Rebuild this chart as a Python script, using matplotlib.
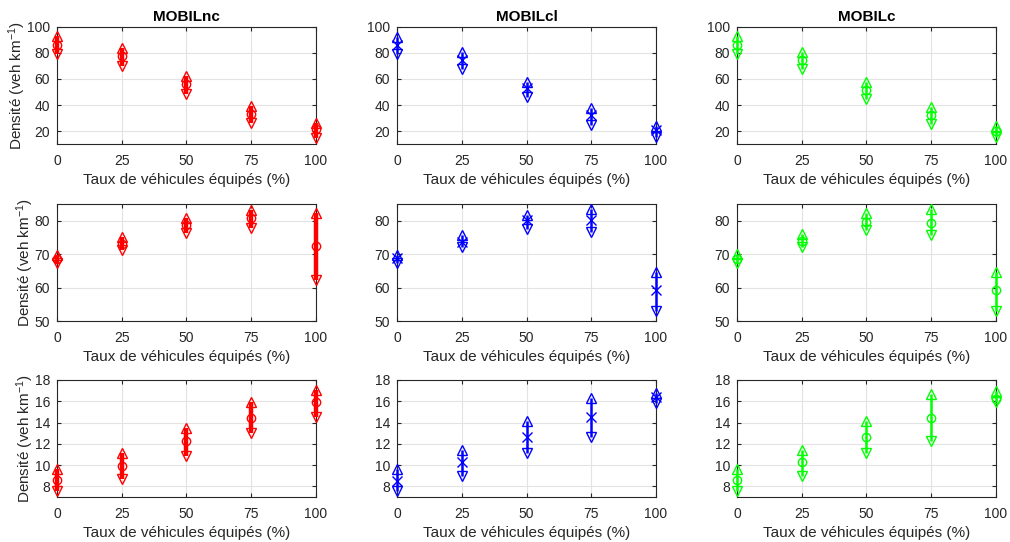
import matplotlib
matplotlib.use('Agg')
import matplotlib.pyplot as plt

plt.rcParams['font.family'] = ['Liberation Sans', 'DejaVu Sans']
plt.rcParams['mathtext.fontset'] = 'custom'
plt.rcParams['mathtext.rm'] = 'Liberation Sans'
plt.rcParams['mathtext.it'] = 'Liberation Sans'

x = [0, 25, 50, 75, 100]
titles = ['MOBILnc', 'MOBILcl', 'MOBILc']

# one inner list per row of panels: [row1, row2, row3]
nc_max = [[93, 84, 62, 39, 26.5], [69.8, 75, 80.7, 83.2, 82.2], [9.6, 11.1, 13.5, 15.9, 17.1]]
nc_mean = [[86.5, 77.4, 56, 33.2, 21.3], [68.6, 72.9, 78.6, 80.8, 72.3], [8.57, 9.95, 12.25, 14.45, 15.9]]
nc_min = [[79, 70, 48.3, 26, 14.5], [67.4, 71.1, 76.4, 77.7, 62.2], [7.6, 8.7, 10.9, 13.0, 14.5]]

cl_max = [[92.5, 81, 57.8, 37.5, 24], [69.8, 75.8, 81.8, 83.5, 64.8], [9.6, 11.45, 14.1, 16.33, 16.8]]
cl_mean = [[86.4, 74.8, 53, 32.4, 20.8], [68.9, 73.6, 80.3, 80.3, 59.2], [8.5, 10.25, 12.65, 14.55, 16.4]]
cl_min = [[79, 67.6, 46, 24.7, 15.5], [67.3, 72.2, 77.4, 76.5, 53], [7.6, 8.95, 11.15, 12.65, 15.8]]

c_max = [[93, 81, 58, 38.8, 24], [70, 76, 82.3, 83.6, 64.6], [9.6, 11.45, 14.1, 16.7, 16.96]]
c_mean = [[86.4, 74.8, 51.7, 32.4, 20], [68.6, 74, 79.6, 79.3, 59.2], [8.57, 10.25, 12.65, 14.45, 16.25]]
c_min = [[79, 67.6, 45, 25.2, 15.7], [67.3, 72, 77.1, 75.6, 52.9], [7.6, 9.0, 11.15, 12.25, 15.9]]

ylims = [(10, 100), (50, 85), (7, 18)]
yticks = [[20, 40, 60, 80, 100], [50, 60, 70, 80], [8, 10, 12, 14, 16, 18]]

series = [
    ('#ff0000', 'o', 3.2, nc_max, nc_mean, nc_min),
    ('#0000ff', 'x', 1.8, cl_max, cl_mean, cl_min),
    ('#00ff00', 'o', 1.8, c_max, c_mean, c_min),
]

fig = plt.figure(figsize=(10.1, 5.42), dpi=100)
lefts = [0.0564, 0.3931, 0.7297]
bottoms = [0.7343, 0.4077, 0.0830]
w, h = 0.2564, 0.2159
axcol = '#262626'

for r in range(3):
    for c in range(3):
        ax = fig.add_axes([lefts[c], bottoms[r], w, h])
        col, mk, lw, smax, smean, smin = series[c]
        for i, xi in enumerate(x):
            ax.plot([xi, xi], [smin[r][i], smax[r][i]], color=col, lw=lw,
                    solid_capstyle='butt', clip_on=False, zorder=3)
        ax.plot(x, smax[r], ls='none', marker='^', ms=7.8, mfc='none', mec=col,
                mew=1.0, clip_on=False, zorder=4)
        ax.plot(x, smin[r], ls='none', marker='v', ms=7.8, mfc='none', mec=col,
                mew=1.0, clip_on=False, zorder=4)
        ax.plot(x, smean[r], ls='none', marker=mk, ms=6 if mk == 'o' else 7,
                mfc='none', mec=col, mew=1.0, clip_on=False, zorder=4)
        ax.set_xlim(0, 100)
        ax.set_ylim(*ylims[r])
        ax.set_xticks(x)
        ax.set_yticks(yticks[r])
        ax.grid(True, color='#e3e3e3', lw=0.8)
        ax.set_axisbelow(True)
        ax.tick_params(direction='in', top=True, right=True, length=3,
                       labelsize=10, colors=axcol)
        ax.tick_params(axis='x', pad=7)
        ax.tick_params(axis='y', pad=5)
        for s in ax.spines.values():
            s.set_color(axcol)
            s.set_linewidth(0.8)
        ax.set_xlabel('Taux de véhicules équipés (%)', fontsize=11, color=axcol, labelpad=4)
        if c == 0:
            ax.set_ylabel('Densité (veh km$^{-1}$)', fontsize=11, color=axcol, labelpad=-1)
        if r == 0:
            ax.set_title(titles[c], fontsize=11, fontweight='bold', pad=4)

fig.savefig('out.png', dpi=100)
